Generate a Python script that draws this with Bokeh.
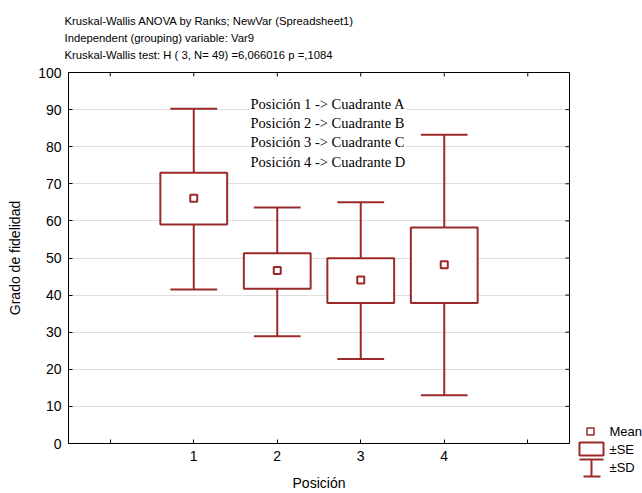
import numpy as np
from bokeh.plotting import figure
from bokeh.layouts import row
from bokeh.models import Range1d, FixedTicker, Label
from bokeh.core.properties import value
from bokeh.embed import file_html
from bokeh.resources import INLINE

# ---- data ----
positions = [1, 2, 3, 4]
means = [66.1, 46.6, 44.1, 48.2]
se_low = [59.0, 41.7, 37.9, 37.9]
se_high = [73.0, 51.3, 49.9, 58.2]
sd_low = [41.5, 28.9, 22.8, 13.0]
sd_high = [90.2, 63.6, 65.0, 83.2]
x_ticks = [0, 1, 2, 3, 4, 5]
x_tick_labels = {0: "", 1: "1", 2: "2", 3: "3", 4: "4", 5: ""}
y_ticks = [0, 10, 20, 30, 40, 50, 60, 70, 80, 90, 100]
title_lines = [
    "Kruskal-Wallis ANOVA by Ranks; NewVar (Spreadsheet1)",
    "Independent (grouping) variable: Var9",
    "Kruskal-Wallis test: H ( 3, N= 49) =6,066016 p =,1084",
]
note_lines = [
    "Posición 1 -> Cuadrante A",
    "Posición 2 -> Cuadrante B",
    "Posición 3 -> Cuadrante C",
    "Posición 4 -> Cuadrante D",
]
legend_labels = ["Mean", "±SE", "±SD"]

RED = "#9A2A2A"
SANS = "Liberation Sans"
SERIF = "Liberation Serif"
X0, X1, Y0, Y1 = -0.5, 5.5, 0, 100

p = figure(width=571, height=493, x_range=Range1d(X0, X1), y_range=Range1d(Y0, Y1),
           output_backend="svg", toolbar_location=None, frame_align=False,
           min_border_left=68, min_border_right=2, min_border_top=72, min_border_bottom=50)
p.background_fill_color = "white"
p.border_fill_color = "white"
p.outline_line_color = "black"
p.outline_line_width = 1

# title
p.title.text = "\n".join(title_lines)
p.title.align = "left"
p.title.text_font = SANS
p.title.text_font_size = "11.3px"
p.title.text_font_style = "normal"
p.title.text_color = "black"
p.title.text_line_height = 1.42
p.title.offset = -4
p.title.standoff = 23

xa = p.xaxis[0]
ya = p.yaxis[0]
xa.ticker = FixedTicker(ticks=x_ticks)
xa.major_label_overrides = x_tick_labels
ya.ticker = FixedTicker(ticks=y_ticks)
xa.axis_label = "Posición"
ya.axis_label = "Grado de fidelidad"
for ax in (xa, ya):
    ax.axis_line_color = "black"
    ax.axis_line_width = 1
    ax.major_tick_in = 4
    ax.major_tick_out = 0
    ax.major_tick_line_color = "black"
    ax.minor_tick_line_color = None
    ax.major_label_text_font = SANS
    ax.major_label_text_font_size = "14px"
    ax.major_label_text_color = "black"
    ax.axis_label_text_font = SANS
    ax.axis_label_text_font_style = "normal"
    ax.axis_label_text_font_size = "14px"
    ax.axis_label_text_color = "black"
xa.major_label_standoff = 7
xa.axis_label_standoff = 11
ya.major_label_standoff = 7
ya.axis_label_standoff = 12

# inward ticks on the top and right frame edges
p.ray(x=x_ticks, y=Y1, length=4, length_units="screen", angle=-np.pi / 2,
      line_color="black", line_width=1)
p.ray(x=X1, y=y_ticks, length=4, length_units="screen", angle=np.pi,
      line_color="black", line_width=1)

p.xgrid.grid_line_color = None
p.ygrid.ticker = FixedTicker(ticks=y_ticks[1:-1])
p.ygrid.grid_line_color = "#bcbcbc"
p.ygrid.grid_line_dash = "1 1"
p.ygrid.grid_line_width = 1

# ---- boxes ----
pos = np.array(positions, dtype=float)
box_w = 0.8
cap_w = 0.56
p.segment(x0=pos, y0=se_high, x1=pos, y1=sd_high, line_color=RED, line_width=2)
p.segment(x0=pos, y0=se_low, x1=pos, y1=sd_low, line_color=RED, line_width=2)
p.segment(x0=pos - cap_w / 2, y0=sd_high, x1=pos + cap_w / 2, y1=sd_high, line_color=RED, line_width=2)
p.segment(x0=pos - cap_w / 2, y0=sd_low, x1=pos + cap_w / 2, y1=sd_low, line_color=RED, line_width=2)
p.vbar(x=pos, width=box_w, top=se_high, bottom=se_low, fill_color="white",
       line_color=RED, line_width=2)
p.scatter(x=pos, y=means, marker="square", size=7, fill_color="white",
          line_color=RED, line_width=2)

# ---- note text ----
note_x = 1.668
for i, t in enumerate(note_lines):
    p.add_layout(Label(x=note_x, y=91.4 - i * 5.13, text=t, text_font=SERIF,
                       text_font_size="14.5px", text_baseline="middle", text_color="black",
                       background_fill_color="white", padding=1))

# ---- legend panel (pixel coordinates, y downward) ----
LW, LH = 71, 493
lg = figure(width=LW, height=LH, x_range=Range1d(0, LW), y_range=Range1d(LH, 0),
            output_backend="svg", toolbar_location=None, frame_align=False,
            x_axis_location=None, y_axis_location=None,
            min_border_left=0, min_border_right=0, min_border_top=0, min_border_bottom=0)
lg.outline_line_color = None
lg.grid.grid_line_color = None
lg.background_fill_color = "white"
lg.border_fill_color = "white"

sym_x = 20          # centre of the legend symbols
row_y = [431, 449, 467]   # centre of each legend row
# Mean
lg.scatter(x=[sym_x - 1], y=[row_y[0]], marker="square", size=7, fill_color="white",
           line_color=RED, line_width=1.5)
# ±SE
lg.quad(left=[sym_x - 12], right=[sym_x + 12], top=[row_y[1] - 7], bottom=[row_y[1] + 6],
        fill_color="white", line_color=RED, line_width=2)
# ±SD
sd_top, sd_bot = row_y[2] - 8, row_y[2] + 9
lg.segment(x0=[sym_x - 12, sym_x, sym_x - 8], y0=[sd_top, sd_top, sd_bot],
           x1=[sym_x + 12, sym_x, sym_x + 9], y1=[sd_top, sd_bot, sd_bot],
           line_color=RED, line_width=2)
lg.text(x=[38] * 3, y=row_y, text=legend_labels, text_font=value(SANS),
        text_font_size="13px", text_baseline="middle", text_align="left",
        text_color="black")

layout = row(p, lg, spacing=0)
open("out.html", "w").write(file_html(layout, INLINE))
